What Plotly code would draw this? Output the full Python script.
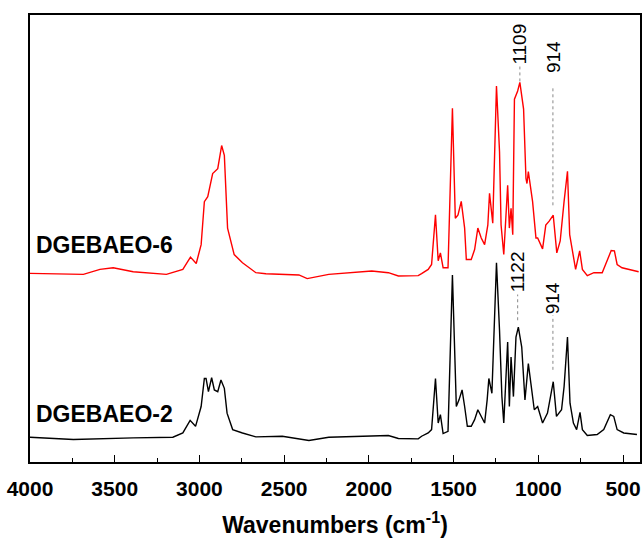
import plotly.graph_objects as go

# wavenumbers (cm-1) and intensities (arbitrary units, offset spectra)
red_wn = [4000, 3685, 3587, 3509, 3391, 3195, 3098, 3053, 3019, 2990, 2971, 2951, 2922, 2892, 2869, 2853,
          2834, 2795, 2746, 2667, 2608, 2413, 2364, 2237, 1983, 1885, 1826, 1709, 1689, 1650, 1630, 1607,
          1591, 1578, 1562, 1533, 1507, 1499, 1490, 1474, 1455, 1435, 1425, 1396, 1376, 1357, 1337, 1317,
          1298, 1288, 1269, 1247, 1229, 1220, 1204, 1181, 1171, 1161, 1151, 1141, 1122, 1109, 1087, 1073,
          1067, 1059, 1034, 1014, 1004, 975, 956, 936, 912, 891, 871, 848, 828, 815, 799, 780, 756, 740,
          711, 672, 623, 594, 570, 551, 535, 506, 457, 408]
red_val = [190.3, 189.3, 194.3, 196, 192, 189.3, 194.3, 206.7, 200.3, 219.3, 262.7, 267.7, 291, 296, 319.3, 309.3,
           236, 209.3, 201, 191, 190, 188.7, 185, 189.3, 192.7, 191, 187.7, 188, 190, 194.3, 199.3, 249.3,
           203, 211, 196, 196, 357, 296, 246, 249.3, 263, 236, 204.3, 204.3, 214.3, 236, 226, 219.3,
           239.3, 271, 241, 379.3, 313, 239.3, 209.3, 279.3, 236, 256, 229.3, 366, 374.3, 383, 356, 286,
           281, 293, 263, 226, 226, 215, 239, 243, 249, 211, 223, 263, 293.3, 229.3, 213, 194.3, 213, 194.3,
           188, 191, 191, 204.3, 213.3, 213, 199.3, 196, 194.3, 192]

black_wn = [4000, 3744, 3391, 3157, 3098, 3055, 3023, 2990, 2971, 2961, 2947, 2928, 2912, 2892, 2873, 2853,
            2837, 2804, 2746, 2667, 2511, 2354, 2237, 1983, 1885, 1826, 1709, 1689, 1650, 1630, 1607, 1591,
            1578, 1562, 1533, 1507, 1493, 1484, 1468, 1450, 1435, 1419, 1396, 1376, 1357, 1337, 1317, 1302,
            1292, 1274, 1247, 1229, 1215, 1204, 1181, 1171, 1161, 1147, 1132, 1118, 1098, 1079, 1059, 1044,
            1024, 1004, 975, 946, 912, 893, 863, 848, 828, 813, 793, 774, 754, 740, 711, 653, 614, 575,
            555, 535, 496, 418]
black_val = [25, 22.7, 24.3, 25, 29.3, 42, 36, 56, 84.3, 84.3, 71, 85, 72.7, 71, 82.7, 74.3,
             49.3, 32.7, 29.3, 25.3, 26, 21.7, 25, 26, 26.7, 23.7, 23.3, 26, 29.3, 32.7, 84.3, 39.3,
             47.7, 28.7, 31, 188.7, 99.3, 56, 62.7, 72.7, 56, 36, 36, 42.7, 52.7, 46, 39.3, 62.7,
             84.3, 69.3, 201, 132.7, 66, 39.3, 121, 56, 106, 66, 126, 136, 116, 62.7, 99.3, 79.3,
             52.7, 56, 39.3, 49.3, 81, 46, 52.7, 76, 126, 59.3, 39.3, 32.7, 50, 32.7, 26.7, 27.7, 32.7, 47.7,
             46, 32.7, 29.3, 27.7]

series_names = ["DGEBAEO-6", "DGEBAEO-2"]
series_label_y = [219, 48]

# peak annotations
ann_wn = [1109, 914, 1122, 914]
ann_text = ["1109", "914", "1122", "914"]
ann_text_y = [422, 408.5, 192, 165]
ann_line_top = [399, 377, 169, 148]
ann_line_bot = [384, 259, 143, 93]

FONT = "Arial, Liberation Sans, sans-serif"

fig = go.Figure()
fig.add_trace(go.Scatter(x=red_wn, y=red_val, mode="lines", line=dict(color="#ff0000", width=1.4),
                         name=series_names[0], hoverinfo="x+y"))
fig.add_trace(go.Scatter(x=black_wn, y=black_val, mode="lines", line=dict(color="#000000", width=1.4),
                         name=series_names[1], hoverinfo="x+y"))

for name, ly in zip(series_names, series_label_y):
    fig.add_annotation(x=3975, y=ly, text="<b>" + name + "</b>", showarrow=False, xanchor="left",
                       yanchor="middle", font=dict(family=FONT, size=23, color="black"))

for wn, t, ty, lt, lb in zip(ann_wn, ann_text, ann_text_y, ann_line_top, ann_line_bot):
    fig.add_annotation(x=wn, y=ty, text=t, showarrow=False, textangle=-90, xanchor="center",
                       yanchor="middle", font=dict(family=FONT, size=19, color="black"))
    fig.add_shape(type="line", x0=wn, x1=wn, y0=lb, y1=lt, xref="x", yref="y",
                  line=dict(color="#888888", width=1, dash="dot"))

fig.update_layout(
    width=644, height=538,
    margin=dict(l=30, r=2, t=15, b=72),
    paper_bgcolor="white", plot_bgcolor="white",
    showlegend=False,
    font=dict(family=FONT, color="black"),
)
fig.update_xaxes(
    range=[4000, 400], showline=True, mirror=True, linecolor="black", linewidth=1.5,
    showgrid=False, zeroline=False, ticks="inside", ticklen=7, tickwidth=1.2, tickcolor="black",
    tick0=0, dtick=500, ticklabelstandoff=7,
    minor=dict(ticks="inside", ticklen=4, tickwidth=1.2, tickcolor="black", dtick=250, tick0=0, showgrid=False),
    tickfont=dict(family=FONT, size=21, color="black", weight="bold"),
    title=dict(text="<b>Wavenumbers (cm<sup>-1</sup>)</b>", font=dict(family=FONT, size=23, color="black"),
               standoff=20),
)
fig.update_yaxes(
    range=[0, 451], showline=True, mirror=True, linecolor="black", linewidth=1.5,
    showgrid=False, zeroline=False, showticklabels=False, ticks="",
)

fig.write_html("out.html")
